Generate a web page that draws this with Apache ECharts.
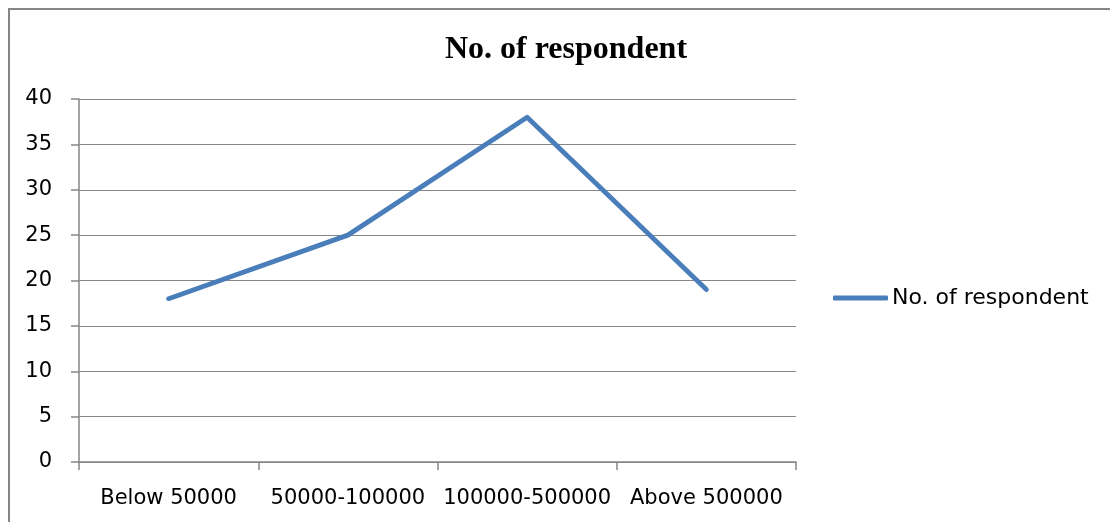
<!DOCTYPE html>
<html>
<head>
<meta charset="utf-8">
<script src="https://cdn.jsdelivr.net/npm/echarts@6/dist/echarts.min.js"></script>
<style>
  html, body { margin: 0; padding: 0; background: #ffffff; }
  #chart { width: 1110px; height: 522px; }
</style>
</head>
<body>
<div id="chart"></div>
<script>
// Income groups and respondent counts
const categories = ['Below 50000', '50000-100000', '100000-500000', 'Above 500000'];
const respondents = [18, 25, 38, 19];
const seriesName = 'No. of respondent';
const chartTitle = 'No. of respondent';

const gray = '#868686';
const blue = '#4a7ebb';
const labelFont = { fontFamily: 'DejaVu Sans', fontSize: 21, color: '#000000' };

const chart = echarts.init(document.getElementById('chart'), null, { renderer: 'canvas' });
chart.setOption({
  backgroundColor: '#ffffff',
  animation: false,
  graphic: [{
    type: 'rect',
    shape: { x: 9, y: 9, width: 1200, height: 700 },
    style: { fill: 'none', stroke: gray, lineWidth: 2 },
    silent: true
  }],
  title: {
    text: chartTitle,
    left: 561,
    textAlign: 'center',
    top: 29,
    textStyle: { fontFamily: 'Liberation Serif', fontWeight: 'bold', fontSize: 32, color: '#000000' }
  },
  legend: {
    data: [{ name: seriesName, icon: 'roundRect' }],
    left: 833,
    top: 287,
    padding: 0,
    itemWidth: 55,
    itemHeight: 5,
    itemGap: 4,
    itemStyle: { color: blue, borderWidth: 0 },
    textStyle: Object.assign({}, labelFont, { fontSize: 22, padding: [0, 0, 0, -1] })
  },
  grid: { left: 79, right: 314, top: 99, bottom: 60, containLabel: false },
  xAxis: {
    type: 'category',
    data: categories,
    boundaryGap: true,
    axisLine: { lineStyle: { color: gray, width: 1.5 } },
    axisTick: { show: true, length: 8, alignWithLabel: false, lineStyle: { color: gray, width: 1.5 } },
    axisLabel: Object.assign({ margin: 26, interval: 0 }, labelFont),
    splitLine: { show: false }
  },
  yAxis: {
    type: 'value',
    min: 0,
    max: 40,
    interval: 5,
    axisLine: { show: true, lineStyle: { color: gray, width: 1.5 } },
    axisTick: { show: true, length: 8, lineStyle: { color: gray, width: 1.5 } },
    axisLabel: Object.assign({ margin: 27 }, labelFont),
    splitLine: { show: true, lineStyle: { color: gray, width: 1.2 } }
  },
  series: [{
    name: seriesName,
    type: 'line',
    data: respondents,
    symbol: 'none',
    showSymbol: false,
    lineStyle: { color: blue, width: 4.8, cap: 'round', join: 'round' },
    itemStyle: { color: blue }
  }]
});
</script>
</body>
</html>
